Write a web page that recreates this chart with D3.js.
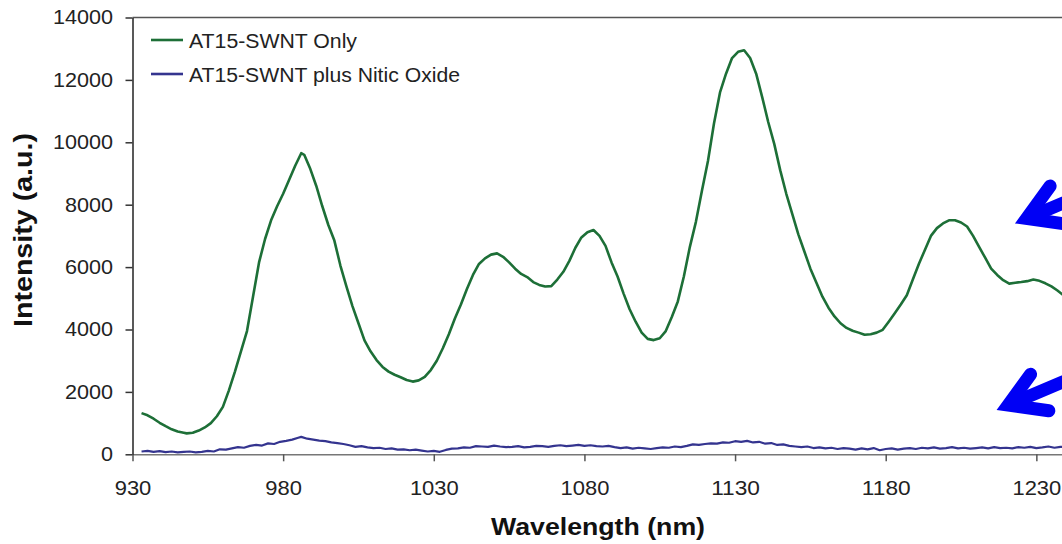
<!DOCTYPE html>
<html>
<head>
<meta charset="utf-8">
<script src="https://cdn.jsdelivr.net/npm/d3@7"></script>
<style>
  html, body { margin: 0; padding: 0; background: #fff; overflow: hidden; }
  svg { display: block; }
</style>
</head>
<body>
<svg id="chart" width="1062" height="544"></svg>
<script>
// Emission spectrum of AT15-SWNT, alone and after nitric oxide exposure
const seriesNames = ["AT15-SWNT Only", "AT15-SWNT plus Nitic Oxide"];

const onlyWavelength = [
  933, 935, 937, 939, 941, 943, 945, 947, 948, 950, 952, 954, 956, 958, 960, 962, 964, 966, 968, 970,
  972, 974, 976, 978, 980, 982, 984, 986, 987, 989, 991, 993, 995, 997, 999, 1001, 1003, 1005, 1007, 1009,
  1011, 1013, 1015, 1017, 1019, 1021, 1023, 1025, 1027, 1029, 1031, 1033, 1035, 1037, 1039, 1041, 1043, 1045, 1047, 1049,
  1051, 1053, 1055, 1057, 1059, 1061, 1063, 1065, 1067, 1069, 1071, 1073, 1075, 1077, 1079, 1081, 1083, 1085, 1087, 1089,
  1091, 1093, 1095, 1097, 1099, 1101, 1103, 1105, 1107, 1109, 1111, 1113, 1115, 1117, 1119, 1121, 1123, 1125, 1127, 1129,
  1131, 1133, 1135, 1137, 1139, 1141, 1143, 1145, 1147, 1149, 1151, 1153, 1155, 1157, 1159, 1161, 1163, 1165, 1167, 1169,
  1171, 1173, 1175, 1177, 1179, 1181, 1183, 1185, 1187, 1189, 1191, 1193, 1195, 1197, 1199, 1201, 1203, 1205, 1207, 1209,
  1211, 1213, 1215, 1217, 1219, 1221, 1223, 1225, 1227, 1229, 1231, 1233, 1235, 1237, 1239, 1241, 1244
];
const onlyIntensity = [
  1320, 1250, 1140, 1010, 900, 800, 730, 690, 670, 690, 760, 860, 1000, 1220, 1520, 2050, 2650, 3300, 3950, 5050,
  6150, 6900, 7500, 7950, 8350, 8800, 9250, 9650, 9600, 9150, 8600, 7950, 7350, 6850, 6050, 5380, 4750, 4200, 3650, 3300,
  3020, 2800, 2650, 2550, 2470, 2380, 2330, 2370, 2480, 2700, 3000, 3400, 3850, 4350, 4800, 5300, 5750, 6100, 6280, 6400,
  6440, 6330, 6150, 5950, 5780, 5680, 5520, 5430, 5380, 5390, 5600, 5850, 6200, 6620, 6950, 7120, 7190, 7000, 6680, 6150,
  5700, 5150, 4650, 4250, 3900, 3700, 3660, 3720, 3950, 4400, 4900, 5700, 6650, 7450, 8450, 9400, 10600, 11600, 12200, 12700,
  12900, 12950, 12700, 12200, 11450, 10650, 9950, 9100, 8350, 7700, 7050, 6500, 5950, 5500, 5050, 4700, 4420, 4200, 4050, 3960,
  3900, 3830, 3850, 3900, 3990, 4250, 4520, 4800, 5100, 5600, 6100, 6550, 7000, 7250, 7400, 7500, 7500, 7430, 7300, 7000,
  6650, 6300, 5950, 5750, 5580, 5470, 5500, 5520, 5550, 5600, 5560, 5480, 5380, 5250, 5100, 4950, 4750
];

const noWavelength = [
  933, 935, 937, 939, 941, 943, 945, 947, 949, 951, 953, 955, 957, 959, 961, 963, 965, 967, 969, 971,
  973, 975, 977, 979, 981, 983, 985, 986, 988, 990, 992, 994, 996, 998, 1000, 1002, 1004, 1006, 1008, 1010,
  1012, 1014, 1016, 1018, 1020, 1022, 1024, 1026, 1028, 1030, 1032, 1034, 1036, 1038, 1040, 1042, 1044, 1046, 1048, 1050,
  1052, 1054, 1056, 1058, 1060, 1062, 1064, 1066, 1068, 1070, 1072, 1074, 1076, 1078, 1080, 1082, 1084, 1086, 1088, 1090,
  1092, 1094, 1096, 1098, 1100, 1102, 1104, 1106, 1108, 1110, 1112, 1114, 1116, 1118, 1120, 1122, 1124, 1126, 1128, 1130,
  1132, 1134, 1136, 1138, 1140, 1142, 1144, 1146, 1148, 1150, 1152, 1154, 1156, 1158, 1160, 1162, 1164, 1166, 1168, 1170,
  1172, 1174, 1176, 1178, 1180, 1182, 1184, 1186, 1188, 1190, 1192, 1194, 1196, 1198, 1200, 1202, 1204, 1206, 1208, 1210,
  1212, 1214, 1216, 1218, 1220, 1222, 1224, 1226, 1228, 1230, 1232, 1234, 1236, 1238, 1240, 1242
];
const noIntensity = [
  90, 110, 80, 100, 70, 90, 60, 80, 90, 60, 80, 110, 90, 160, 150, 190, 230, 210, 270, 300,
  280, 350, 330, 400, 430, 470, 530, 560, 500, 470, 440, 420, 380, 360, 330, 290, 240, 260, 220, 200,
  210, 170, 190, 150, 160, 130, 150, 120, 90, 110, 80, 140, 180, 190, 220, 210, 260, 250, 240, 280,
  250, 230, 240, 260, 220, 240, 270, 260, 240, 270, 290, 260, 280, 300, 270, 290, 260, 250, 270, 230,
  200, 220, 180, 210, 190, 170, 200, 220, 210, 250, 230, 270, 320, 300, 330, 350, 340, 380, 370, 420,
  400, 430, 380, 400, 340, 360, 300, 320, 270, 250, 230, 250, 200, 220, 190, 210, 170, 200, 180, 150,
  190, 160, 200, 130, 170, 190, 150, 180, 200, 170, 210, 190, 220, 180, 200, 230, 190, 210, 180, 200,
  220, 190, 230, 200, 210, 190, 230, 210, 240, 200, 220, 250, 210, 240, 220, 230
];

const xTickValues = [930, 980, 1030, 1080, 1130, 1180, 1230];
const yTickValues = [0, 2000, 4000, 6000, 8000, 10000, 12000, 14000];
const xDomain = [930, 1280];
const yDomain = [0, 14000];

// Arrow annotations: tip given in data units
const arrowTipWavelength = [1222.9, 1216.8];
const arrowTipIntensity = [7400, 1420];

const seriesColors = ["#1d6f37", "#34348f"];
const FONT = "'Liberation Sans', Arial, Helvetica, sans-serif";

const svg = d3.select("#chart");

const x = d3.scaleLinear().domain(xDomain).range([132.5, 1187]);
const y = d3.scaleLinear().domain(yDomain).range([454.3, 17.5]);

// plot-area top border
svg.append("line")
  .attr("x1", x(xDomain[0])).attr("x2", x(xDomain[1]))
  .attr("y1", y(yDomain[1])).attr("y2", y(yDomain[1]))
  .attr("stroke", "#555").attr("stroke-width", 1.5);

// x axis
const gx = svg.append("g")
  .attr("transform", `translate(0,${y(0)})`)
  .call(d3.axisBottom(x).tickValues(xTickValues).tickSize(7).tickSizeOuter(0).tickPadding(20).tickFormat(d3.format("d")));
gx.select(".domain").attr("stroke", "#777").attr("stroke-width", 1.5);
gx.selectAll(".tick line").attr("stroke", "#555").attr("stroke-width", 1.5);
gx.selectAll(".tick text")
  .attr("font-family", FONT).attr("font-size", 20).attr("fill", "#222")
  .attr("textLength", d => String(d).length * 12.2).attr("lengthAdjust", "spacingAndGlyphs");

// y axis
const gy = svg.append("g")
  .attr("transform", `translate(${x(xDomain[0])},0)`)
  .call(d3.axisLeft(y).tickValues(yTickValues).tickSize(7).tickSizeOuter(0).tickPadding(12.5).tickFormat(d3.format("d")));
gy.select(".domain").attr("stroke", "#222").attr("stroke-width", 1.5);
gy.selectAll(".tick line").attr("stroke", "#333").attr("stroke-width", 1.5);
gy.selectAll(".tick text")
  .attr("font-family", FONT).attr("font-size", 20).attr("fill", "#222")
  .attr("textLength", d => String(d).length * 12).attr("lengthAdjust", "spacingAndGlyphs");

// spectra
const line = d3.line().x(d => x(d[0])).y(d => y(d[1]));
const onlySeries = d3.zip(onlyWavelength, onlyIntensity);
const noSeries = d3.zip(noWavelength, noIntensity);

svg.append("path").datum(noSeries)
  .attr("d", line).attr("fill", "none")
  .attr("stroke", seriesColors[1]).attr("stroke-width", 2.2).attr("stroke-linejoin", "round");
svg.append("path").datum(onlySeries)
  .attr("d", line).attr("fill", "none")
  .attr("stroke", seriesColors[0]).attr("stroke-width", 2.6).attr("stroke-linejoin", "round");

// legend
const legend = svg.append("g");
const legendWidths = [168, 271];
seriesNames.forEach((name, i) => {
  const yy = 40 + i * 34;
  legend.append("line")
    .attr("x1", 151).attr("x2", 183).attr("y1", yy).attr("y2", yy)
    .attr("stroke", seriesColors[i]).attr("stroke-width", 2.6);
  legend.append("text")
    .attr("x", 189).attr("y", yy + 8)
    .attr("font-family", FONT).attr("font-size", 20).attr("fill", "#222")
    .attr("textLength", legendWidths[i]).attr("lengthAdjust", "spacingAndGlyphs")
    .text(name);
});

// axis titles
svg.append("text")
  .attr("x", 598).attr("y", 535)
  .attr("text-anchor", "middle")
  .attr("font-family", FONT).attr("font-size", 24).attr("font-weight", "bold").attr("fill", "#111")
  .attr("textLength", 214).attr("lengthAdjust", "spacingAndGlyphs")
  .text("Wavelength (nm)");

svg.append("text")
  .attr("transform", "translate(31.5,230) rotate(-90)")
  .attr("text-anchor", "middle")
  .attr("font-family", FONT).attr("font-size", 25).attr("font-weight", "bold").attr("fill", "#111")
  .attr("textLength", 194).attr("lengthAdjust", "spacingAndGlyphs")
  .text("Intensity (a.u.)");

// arrows pointing at the two spectra
const arrowSpecs = [
  { upper: -54, lower: 8, shaft: -23, upperLen: 40, lowerLen: 46 },
  { upper: -54, lower: 8, shaft: -23, upperLen: 38, lowerLen: 41 }
];
const SW = 13;
const rad = a => a * Math.PI / 180;
arrowTipWavelength.forEach((wl, i) => {
  const s = arrowSpecs[i];
  const tx = x(wl), ty = y(arrowTipIntensity[i]);
  const half = (s.lower - s.upper) / 2;
  const inset = (SW / 2) / Math.sin(rad(half));
  const bis = (s.upper + s.lower) / 2;
  const vx = tx + inset * Math.cos(rad(bis)), vy = ty + inset * Math.sin(rad(bis));
  const p = d3.path();
  p.moveTo(vx + s.upperLen * Math.cos(rad(s.upper)), vy + s.upperLen * Math.sin(rad(s.upper)));
  p.lineTo(vx, vy);
  p.lineTo(vx + s.lowerLen * Math.cos(rad(s.lower)), vy + s.lowerLen * Math.sin(rad(s.lower)));
  svg.append("path").attr("d", p.toString())
    .attr("fill", "none").attr("stroke", "#0000f5").attr("stroke-width", SW)
    .attr("stroke-linecap", "round").attr("stroke-linejoin", "miter").attr("stroke-miterlimit", 10);
  svg.append("line")
    .attr("x1", vx + 4 * Math.cos(rad(s.shaft))).attr("y1", vy + 4 * Math.sin(rad(s.shaft)))
    .attr("x2", vx + 160 * Math.cos(rad(s.shaft))).attr("y2", vy + 160 * Math.sin(rad(s.shaft)))
    .attr("stroke", "#0000f5").attr("stroke-width", SW).attr("stroke-linecap", "round");
});
</script>
</body>
</html>
